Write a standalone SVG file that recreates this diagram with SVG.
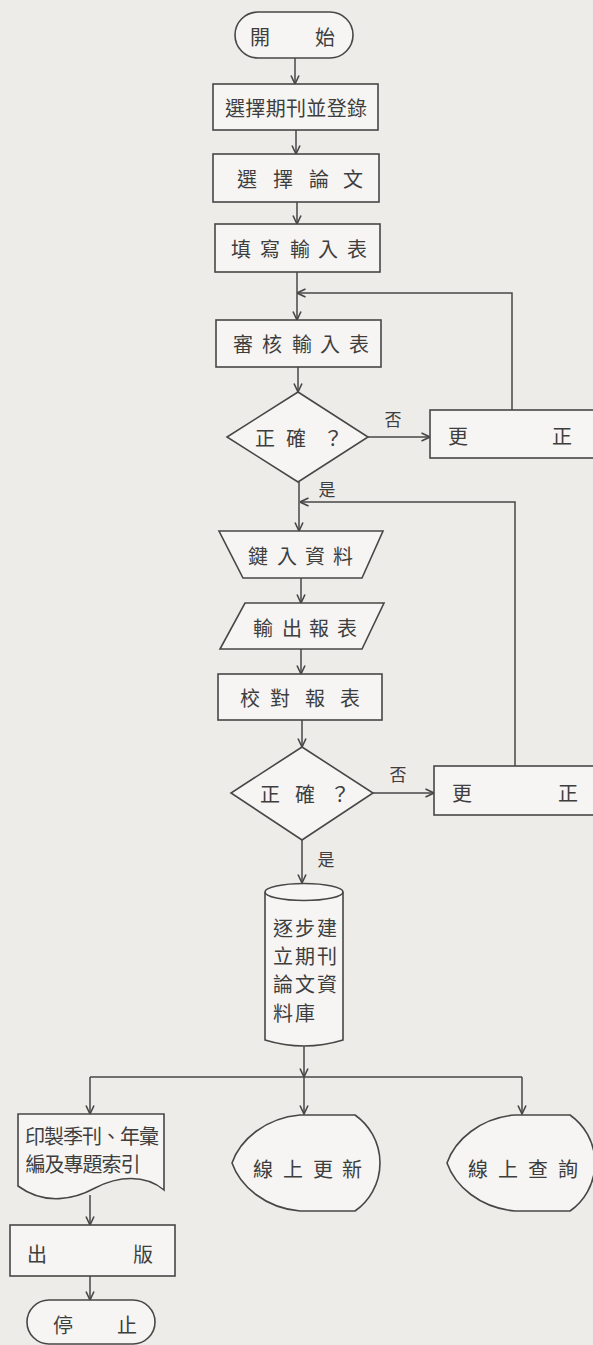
<svg xmlns="http://www.w3.org/2000/svg" width="593" height="1345" viewBox="0 0 593 1345">
<defs>
<marker id="arr" viewBox="0 0 10 10" refX="9.5" refY="5" markerWidth="10" markerHeight="10" markerUnits="userSpaceOnUse" orient="auto">
<path d="M1 1 L9.5 5 L1 9" fill="none" stroke="#474747" stroke-width="1.6"/>
</marker>
<style>
.s{fill:#f6f5f3;stroke:#474747;stroke-width:1.6}
.c{fill:none;stroke:#474747;stroke-width:1.5}
.t{font-family:"Noto Sans CJK TC","Noto Sans CJK SC",sans-serif;font-size:20px;fill:#3e3e3e;text-anchor:middle;dominant-baseline:central}
.l{font-size:17px}
</style>
</defs>
<rect width="593" height="1345" fill="#eeece9"/>
<g id="connectors">
<path class="c" d="M295 58 V84" marker-end="url(#arr)"/>
<path class="c" d="M296 130 V154" marker-end="url(#arr)"/>
<path class="c" d="M297 202 V224" marker-end="url(#arr)"/>
<path class="c" d="M297 272 V320" marker-end="url(#arr)"/>
<path class="c" d="M512 410 V293 H297" marker-end="url(#arr)"/>
<path class="c" d="M298 367 V392" marker-end="url(#arr)"/>
<path class="c" d="M368 437 H430" marker-end="url(#arr)"/>
<path class="c" d="M299 482 V531" marker-end="url(#arr)"/>
<path class="c" d="M515 766 V502 H300" marker-end="url(#arr)"/>
<path class="c" d="M301 578 V603" marker-end="url(#arr)"/>
<path class="c" d="M301 649 V674" marker-end="url(#arr)"/>
<path class="c" d="M302 720 V747" marker-end="url(#arr)"/>
<path class="c" d="M373 793 H434" marker-end="url(#arr)"/>
<path class="c" d="M302 840 V883" marker-end="url(#arr)"/>
<path class="c" d="M304 1046 V1077" marker-end="url(#arr)"/>
<path class="c" d="M90 1077 H522"/>
<path class="c" d="M304 1077 V1114" marker-end="url(#arr)"/>
<path class="c" d="M90 1077 V1114" marker-end="url(#arr)"/>
<path class="c" d="M522 1077 V1114" marker-end="url(#arr)"/>
<path class="c" d="M90 1195 V1225" marker-end="url(#arr)"/>
<path class="c" d="M90 1276 V1300" marker-end="url(#arr)"/>
<text class="t l" x="393" y="418">否</text>
<text class="t l" x="327" y="488">是</text>
<text class="t l" x="398" y="773">否</text>
<text class="t l" x="326" y="858">是</text>
</g>
<g id="start">
<rect class="s" x="235" y="12" width="118" height="46" rx="23"/>
<text class="t" x="260" y="36">開</text><text class="t" x="325" y="36">始</text>
</g>
<g id="select-journal">
<rect class="s" x="213" y="84" width="165" height="46"/>
<text class="t" x="296" y="107" textLength="142" lengthAdjust="spacing">選擇期刊並登錄</text>
</g>
<g id="select-paper">
<rect class="s" x="213" y="154" width="166" height="48"/>
<text class="t" x="247" y="178">選</text><text class="t" x="283" y="178">擇</text><text class="t" x="319" y="178">論</text><text class="t" x="353" y="178">文</text>
</g>
<g id="fill-form">
<rect class="s" x="215" y="224" width="165" height="48"/>
<text class="t" x="241" y="248">填</text><text class="t" x="270" y="248">寫</text><text class="t" x="300" y="248">輸</text><text class="t" x="328" y="248">入</text><text class="t" x="357" y="248">表</text>
</g>
<g id="review-form">
<rect class="s" x="216" y="320" width="165" height="47"/>
<text class="t" x="243" y="343">審</text><text class="t" x="272" y="343">核</text><text class="t" x="302" y="343">輸</text><text class="t" x="330" y="343">入</text><text class="t" x="359" y="343">表</text>
</g>
<g id="check1">
<polygon class="s" points="298,392 368,437 298,482 227,437"/>
<text class="t" x="265" y="437">正</text><text class="t" x="296" y="437">確</text><text class="t" x="333" y="437">？</text>
</g>
<g id="correct1">
<rect class="s" x="430" y="410" width="175" height="48"/>
<text class="t" x="458" y="435">更</text><text class="t" x="562" y="435">正</text>
</g>
<g id="key-in">
<polygon class="s" points="219,531 383,531 362,578 243,578"/>
<text class="t" x="258" y="555">鍵</text><text class="t" x="287" y="555">入</text><text class="t" x="315" y="555">資</text><text class="t" x="343" y="555">料</text>
</g>
<g id="output-report">
<polygon class="s" points="245,603 384,603 362,649 220,649"/>
<text class="t" x="263" y="627">輸</text><text class="t" x="292" y="627">出</text><text class="t" x="319" y="627">報</text><text class="t" x="347" y="627">表</text>
</g>
<g id="proof-report">
<rect class="s" x="218" y="674" width="164" height="46"/>
<text class="t" x="250" y="697">校</text><text class="t" x="280" y="697">對</text><text class="t" x="315" y="697">報</text><text class="t" x="350" y="697">表</text>
</g>
<g id="check2">
<polygon class="s" points="302,747 373,793 302,840 231,793"/>
<text class="t" x="270" y="793">正</text><text class="t" x="305" y="793">確</text><text class="t" x="340" y="793">？</text>
</g>
<g id="correct2">
<rect class="s" x="434" y="766" width="175" height="49"/>
<text class="t" x="462" y="792">更</text><text class="t" x="568" y="792">正</text>
</g>
<g id="database">
<path class="s" d="M265 892 V1040 Q304 1052 343 1040 V892"/>
<ellipse class="s" cx="304" cy="892" rx="39" ry="8.5"/>
<text class="t" x="305" y="927" font-size="21" textLength="64" lengthAdjust="spacing">逐步建</text>
<text class="t" x="305" y="955" font-size="21" textLength="64" lengthAdjust="spacing">立期刊</text>
<text class="t" x="305" y="983" font-size="21" textLength="64" lengthAdjust="spacing">論文資</text>
<text class="t" x="294" y="1012" font-size="21" textLength="42" lengthAdjust="spacing">料庫</text>
</g>
<g id="print-index">
<path class="s" d="M18 1114 H164 V1190 C145 1174 118 1176 95 1188 C75 1199 45 1206 18 1186 Z"/>
<text class="t" x="92" y="1135" font-size="19" textLength="134" lengthAdjust="spacing">印製季刊、年彙</text>
<text class="t" x="83" y="1163" font-size="19" textLength="115" lengthAdjust="spacing">編及專題索引</text>
</g>
<g id="online-update">
<path class="s" d="M355 1115 H300 C265 1118 240 1140 232 1163 C240 1186 265 1208 300 1211 H355 A58.6 58.6 0 0 0 355 1115 Z"/>
<text class="t" x="263" y="1168">線</text><text class="t" x="293" y="1168">上</text><text class="t" x="323" y="1168">更</text><text class="t" x="352" y="1168">新</text>
</g>
<g id="online-query">
<path class="s" d="M570 1115 H515 C480 1118 455 1140 447 1163 C455 1186 480 1208 515 1211 H570 A58.6 58.6 0 0 0 570 1115 Z"/>
<text class="t" x="478" y="1168">線</text><text class="t" x="508" y="1168">上</text><text class="t" x="538" y="1168">查</text><text class="t" x="568" y="1168">詢</text>
</g>
<g id="publish">
<rect class="s" x="10" y="1225" width="165" height="51"/>
<text class="t" x="37" y="1253">出</text><text class="t" x="143" y="1253">版</text>
</g>
<g id="stop">
<rect class="s" x="27" y="1300" width="128" height="44" rx="22"/>
<text class="t" x="63" y="1324">停</text><text class="t" x="127" y="1324">止</text>
</g>
</svg>
